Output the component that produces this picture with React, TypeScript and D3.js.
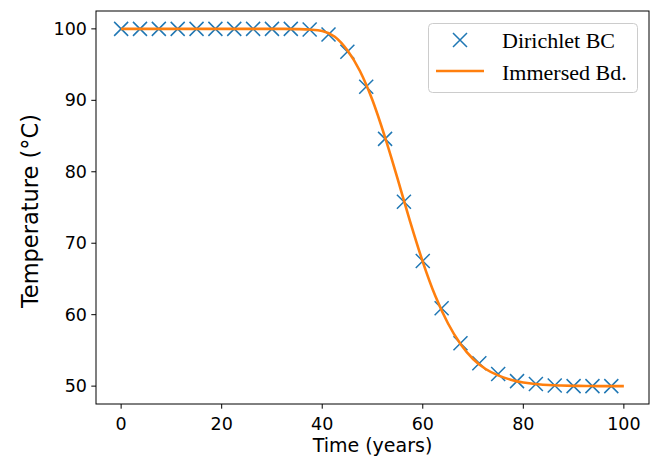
import React from "react";
import * as d3 from "d3";

const markerTimes = [0, 3.75, 7.5, 11.25, 15, 18.75, 22.5, 26.25, 30, 33.75, 37.5, 41.25, 45, 48.75, 52.5, 56.25, 60, 63.75, 67.5, 71.25, 75, 78.75, 82.5, 86.25, 90, 93.75, 97.5];
const markerTemps = [100, 100, 100, 100, 100, 100, 100, 100, 100, 100, 99.9, 99.2, 96.8, 91.9, 84.6, 75.8, 67.5, 60.9, 56.0, 53.2, 51.7, 50.7, 50.3, 50.1, 50.0, 50.0, 50.0];

const curveTimes = [0, 2.5, 5, 7.5, 10, 12.5, 15, 17.5, 20, 22.5, 25, 27.5, 30, 32.5, 35, 37.5, 40, 42.5, 45, 47.5, 50, 52.5, 55, 57.5, 60, 62.5, 65, 67.5, 70, 72.5, 75, 77.5, 80, 82.5, 85, 87.5, 90, 92.5, 95, 97.5, 100];
const curveTemps = [100, 100, 100, 100, 100, 100, 100, 100, 100, 100, 100, 100, 100, 100, 99.97, 99.9, 99.7, 98.9, 97.0, 94.1, 90.0, 84.8, 79.0, 73.0, 67.4, 62.6, 58.8, 55.9, 53.8, 52.4, 51.5, 50.9, 50.5, 50.3, 50.15, 50.08, 50.04, 50.02, 50.0, 50.0, 50.0];

const xTicks = [0, 20, 40, 60, 80, 100];
const yTicks = [50, 60, 70, 80, 90, 100];
const seriesNames = ["Dirichlet BC", "Immersed Bd."];

const W = 654, H = 458;
const L = 96, R = 649, T = 11, B = 404;
const BLUE = "#1f77b4", ORANGE = "#ff7f0e";

function XMark({ cx, cy, s = 7 }: { cx: number; cy: number; s?: number }) {
  return (
    <path d={`M${cx - s},${cy - s}L${cx + s},${cy + s}M${cx - s},${cy + s}L${cx + s},${cy - s}`} stroke={BLUE} strokeWidth={1.5} fill="none" />
  );
}

export default function App() {
  const x = d3.scaleLinear().domain([-5, 105]).range([L, R]);
  const y = d3.scaleLinear().domain([47.5, 102.5]).range([B, T]);
  const line = d3.line<number>().x((_, i) => x(curveTimes[i])).y((d) => y(d)).curve(d3.curveMonotoneX);
  const font = "'DejaVu Sans', sans-serif";
  const serif = "'Liberation Serif', 'Times New Roman', serif";
  return (
    <svg width={W} height={H} style={{ position: "absolute", left: 0, top: 0, background: "#fff" }}>
      <rect x={0} y={0} width={W} height={H} fill="#fff" />
      <defs>
        <clipPath id="clip"><rect x={L} y={T} width={R - L} height={B - T} /></clipPath>
      </defs>
      <g clipPath="url(#clip)">
        {markerTimes.map((t, i) => (
          <XMark key={i} cx={x(t)} cy={y(markerTemps[i])} />
        ))}
        <path d={line(curveTemps) || ""} stroke={ORANGE} strokeWidth={2.6} fill="none" />
      </g>
      <rect x={L} y={T} width={R - L} height={B - T} fill="none" stroke="#000" strokeWidth={1} />
      {xTicks.map((t) => (
        <g key={t}>
          <line x1={x(t)} x2={x(t)} y1={B} y2={B + 4.7} stroke="#000" strokeWidth={1} />
          <text x={x(t)} y={B + 26} textAnchor="middle" fontFamily={font} fontSize={17.5} fill="#000">{t}</text>
        </g>
      ))}
      {yTicks.map((t) => (
        <g key={t}>
          <line x1={L - 4.7} x2={L} y1={y(t)} y2={y(t)} stroke="#000" strokeWidth={1} />
          <text x={L - 9} y={y(t)} dy="0.35em" textAnchor="end" fontFamily={font} fontSize={17.5} fill="#000">{t}</text>
        </g>
      ))}
      <text x={(L + R) / 2} y={452} textAnchor="middle" fontFamily={font} fontSize={19} fill="#000">Time (years)</text>
      <text transform={`translate(38,211) rotate(-90)`} textAnchor="middle" fontFamily={font} fontSize={22.5} fill="#000">Temperature (°C)</text>
      <g>
        <rect x={428.5} y={23.5} width={209} height={69} rx={4} fill="#fff" fillOpacity={0.8} stroke="#cccccc" strokeWidth={1} />
        <XMark cx={460} cy={40} />
        <line x1={436} x2={484} y1={71} y2={71} stroke={ORANGE} strokeWidth={2.6} />
        <text x={502} y={48} fontFamily={serif} fontSize={22} fill="#000">{seriesNames[0]}</text>
        <text x={502} y={80} fontFamily={serif} fontSize={22} fill="#000">{seriesNames[1]}</text>
      </g>
    </svg>
  );
}
